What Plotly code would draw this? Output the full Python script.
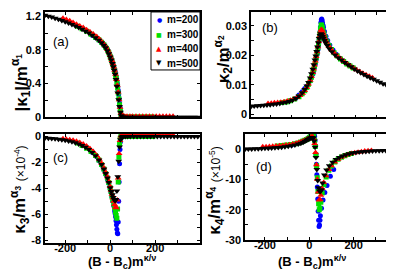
import plotly.graph_objects as go

# ---------------- data ----------------
X500 = [-290,-275,-260,-245,-230,-215,-200,-185,-170,-155,-140,-125,-110,-95,-80,-65,-50,
        -38,-28,-20,-12,-6,
        0,5,10,14,18,22,26,30,34,38,42,46,50,55,60,
        68,78,90,
        105,120,135,150,165,180,195,210,225,240,255,270,285,300,315,330,345,360,375,390]
X400 = [-210,-195,-180,-165,-150,-135,-120,-105,-90,-75,-60,
        -48,-38,-28,-20,-12,-6,
        0,4,8,12,16,20,24,28,32,36,40,44,48,52,
        58,65,75,88,
        100,115,130,145,160,175,190,205,220,235,250,265,280]
X300 = [-145,-125,-105,-85,-65,-50,-38,-28,-20,-12,-6,
        0,4,8,12,16,20,24,
        27,30,33,36,39,42,45,48,
        52,58,66,76,88,
        100,115,130,145,160,175,190]
X200 = [-80,-65,-50,-38,-28,-20,-12,-6,
        0,4,8,12,16,
        20,22,24,26,28,30,32,34,36,38,40,42,44,46,48,50,
        55,62,70,80,95,110]

# panel (a): |kappa_1| / m^alpha_1
K1_500 = [1.21,1.20,1.19,1.175,1.165,1.15,1.135,1.12,1.10,1.085,1.065,1.045,1.02,1.00,0.975,0.945,0.915,
          0.885,0.855,0.825,0.79,0.755,
          0.715,0.68,0.64,0.60,0.56,0.51,0.45,0.37,0.29,0.21,0.13,0.06,0.02,0.005,0.0,
          0.0,0.0,0.0,
          0.0,0.0,0.0,0.0,0.0,0.0,0.0,0.0,0.0,0.0,0.0,0.0,0.0,0.0,0.0,0.0,0.0,0.0,0.0,0.0]
K1_400 = [1.175,1.16,1.145,1.125,1.105,1.085,1.065,1.04,1.015,0.99,0.96,
          0.93,0.90,0.87,0.84,0.805,0.775,
          0.735,0.705,0.675,0.64,0.60,0.56,0.51,0.45,0.38,0.30,0.21,0.12,0.05,0.018,
          0.012,0.012,0.012,0.012,
          0.012,0.012,0.012,0.012,0.012,0.012,0.012,0.012,0.012,0.012,0.012,0.012,0.012]
K1_300 = [1.08,1.05,1.02,0.985,0.95,0.92,0.89,0.86,0.83,0.80,0.765,
          0.725,0.695,0.665,0.63,0.59,0.55,0.50,
          0.46,0.41,0.35,0.29,0.22,0.15,0.08,0.03,
          0.008,0.003,0.003,0.003,0.003,
          0.003,0.003,0.003,0.003,0.003,0.003,0.003]
K1_200 = [0.975,0.945,0.915,0.885,0.855,0.83,0.80,0.77,
          0.73,0.70,0.67,0.635,0.60,
          0.56,0.54,0.515,0.49,0.46,0.43,0.40,0.36,0.32,0.27,0.22,0.17,0.12,0.075,0.04,0.015,
          0.003,0.0,0.0,0.0,0.0,0.0]

# panel (b): kappa_2 / m^alpha_2
K2_500 = [0.0027,0.0028,0.0029,0.0030,0.0031,0.0032,0.0033,0.0034,0.0035,0.0037,0.0039,0.0041,0.0044,0.0048,0.0054,0.0062,0.0073,
          0.0084,0.0096,0.0108,0.0123,0.0138,
          0.0153,0.0168,0.0184,0.0198,0.0213,0.0228,0.0243,0.0257,0.0267,0.0273,0.0270,0.0264,0.0258,0.0250,0.0243,
          0.0233,0.0222,0.0212,
          0.0201,0.0192,0.0184,0.0176,0.0168,0.0161,0.0154,0.0147,0.0141,0.0135,0.0129,0.0124,0.0119,0.0114,0.0109,0.0104,0.0100,0.0096,0.0093,0.0090]
K2_400 = [0.0037,0.0038,0.0039,0.0040,0.0041,0.0043,0.0045,0.0048,0.0052,0.0057,0.0064,
          0.0072,0.0081,0.0092,0.0103,0.0116,0.0128,
          0.0142,0.0154,0.0167,0.0181,0.0196,0.0212,0.0229,0.0247,0.0265,0.0280,0.0288,0.0285,0.0277,0.0268,
          0.0256,0.0245,0.0232,0.0219,
          0.0209,0.0198,0.0189,0.0180,0.0172,0.0165,0.0158,0.0151,0.0145,0.0139,0.0134,0.0129,0.0124]
K2_300 = [0.0040,0.0042,0.0046,0.0052,0.0060,0.0070,0.0080,0.0091,0.0102,0.0115,0.0127,
          0.0141,0.0152,0.0164,0.0178,0.0193,0.0209,0.0226,
          0.0240,0.0256,0.0273,0.0290,0.0303,0.0302,0.0294,0.0285,
          0.0274,0.0261,0.0247,0.0233,0.0220,
          0.0209,0.0198,0.0188,0.0179,0.0171,0.0164,0.0157]
K2_200 = [0.0055,0.0066,0.0077,0.0088,0.0095,0.0102,0.0113,0.0124,
          0.0136,0.0146,0.0158,0.0171,0.0186,
          0.0202,0.0210,0.0219,0.0229,0.0240,0.0252,0.0265,0.0280,0.0296,0.0311,0.0321,0.0323,0.0318,0.0310,0.0302,0.0295,
          0.0281,0.0265,0.0250,0.0235,0.0218,0.0204]

# panel (c): kappa_3 / m^alpha_3  (x 1e-4)
K3_500 = [-0.10,-0.12,-0.14,-0.17,-0.20,-0.24,-0.28,-0.33,-0.39,-0.47,-0.57,-0.69,-0.83,-1.0,-1.22,-1.48,-1.8,
          -2.15,-2.5,-2.85,-3.2,-3.55,
          -3.95,-4.25,-4.5,-4.7,-4.85,-4.95,-4.85,-4.2,-3.1,-1.9,-0.8,-0.25,-0.05,0.0,0.0,
          0.0,0.0,0.0,
          0.0,0.0,0.0,0.0,0.0,0.0,0.0,0.0,0.0,0.0,0.0,0.0,0.0,0.0,0.0,0.0,0.0,0.0,0.0,0.0]
K3_400 = [-0.17,-0.20,-0.24,-0.29,-0.36,-0.45,-0.57,-0.72,-0.92,-1.15,-1.45,
          -1.75,-2.05,-2.4,-2.75,-3.1,-3.45,
          -3.85,-4.15,-4.45,-4.75,-5.0,-5.25,-5.45,-5.5,-4.9,-3.2,-1.3,-0.3,0.05,0.1,
          0.12,0.12,0.12,0.12,
          0.12,0.12,0.12,0.12,0.12,0.12,0.12,0.12,0.12,0.12,0.12,0.12,0.12]
K3_300 = [-0.5,-0.68,-0.9,-1.15,-1.45,-1.8,-2.15,-2.5,-2.85,-3.2,-3.55,
          -3.95,-4.25,-4.6,-4.9,-5.2,-5.5,-5.85,
          -6.1,-6.3,-5.6,-3.5,-1.6,-0.55,-0.12,0.0,
          0.0,0.0,0.0,0.0,0.0,
          0.0,0.0,0.0,0.0,0.0,0.0,0.0]
K3_200 = [-1.2,-1.5,-1.85,-2.2,-2.55,-2.9,-3.3,-3.6,
          -4.0,-4.3,-4.65,-5.0,-5.35,
          -5.75,-5.95,-6.2,-6.5,-6.8,-7.15,-7.45,-7.5,-6.6,-5.0,-3.5,-2.1,-1.0,-0.4,-0.12,-0.03,
          0.0,0.0,0.0,0.0,0.0,0.0]

# panel (d): kappa_4 / m^alpha_4  (x 1e-5)
K4_500 = [-0.1,-0.05,0.0,0.05,0.1,0.15,0.2,0.25,0.3,0.4,0.5,0.6,0.75,0.9,1.05,1.3,1.6,
          1.9,2.2,2.5,2.85,3.1,
          3.35,3.6,3.75,3.8,3.6,2.6,0.6,-2.8,-6.8,-10.4,-12.8,-13.8,-14.0,-13.4,-11.2,
          -8.6,-6.9,-5.5,
          -4.4,-3.5,-2.8,-2.3,-1.9,-1.6,-1.35,-1.15,-1.0,-0.9,-0.8,-0.72,-0.66,-0.6,-0.56,-0.52,-0.5,-0.47,-0.45,-0.43]
K4_400 = [0.7,0.75,0.8,0.87,0.95,1.05,1.15,1.28,1.42,1.6,1.85,
          2.1,2.35,2.6,2.85,3.1,3.35,
          3.6,3.8,3.95,4.05,4.0,3.4,1.8,-1.2,-5.2,-10.0,-14.2,-16.8,-16.6,-15.2,
          -13.0,-11.0,-8.8,-6.8,
          -5.5,-4.3,-3.4,-2.7,-2.2,-1.8,-1.5,-1.25,-1.05,-0.9,-0.7,-0.6,-0.5]
K4_300 = [1.0,1.15,1.3,1.5,1.75,2.0,2.3,2.6,2.85,3.15,3.4,
          3.7,3.9,4.05,4.2,4.3,4.0,2.8,
          0.8,-2.0,-5.5,-9.5,-14.0,-18.0,-20.0,-19.5,
          -17.5,-14.5,-11.8,-9.2,-7.0,
          -5.6,-4.3,-3.4,-2.7,-2.2,-1.8,-1.5]
K4_200 = [1.3,1.6,1.9,2.2,2.5,2.8,3.2,3.5,
          3.8,4.1,4.4,4.7,5.0,
          5.2,5.0,4.2,2.8,0.8,-1.8,-5.0,-8.5,-12.5,-16.5,-20.5,-23.5,-25.5,-25.0,-23.5,-22.0,
          -19.5,-16.8,-14.3,-12.0,-9.0,-6.8]

SERIES = ["m=200", "m=300", "m=400", "m=500"]

# labelled ticks and unlabelled (minor) ticks
X_TICKS = [-200, 0, 200]
X_TICKTEXT = ["-200", "0", "200"]
X_MINOR = [-100, 100, 300]
YA_TICKS = [0, 0.4, 0.8, 1.2]
YA_TEXT = ["0", "0.4", "0.8", "1.2"]
YA_MINOR = [0.2, 0.6, 1.0]
YB_TICKS = [0, 0.01, 0.02, 0.03]
YB_TEXT = ["0", "0.01", "0.02", "0.03"]
YB_MINOR = [0.005, 0.015, 0.025]
YC_TICKS = [-8, -6, -4, -2, 0]
YC_TEXT = ["-8", "-6", "-4", "-2", "0"]
YC_MINOR = [-7, -5, -3, -1]
YD_TICKS = [-30, -20, -10, 0]
YD_TEXT = ["-30", "-20", "-10", "0"]
YD_MINOR = [-25, -15, -5, 5]

# ---------------- styles ----------------
XS = {"m=200": X200, "m=300": X300, "m=400": X400, "m=500": X500}
STYLE = {
    "m=200": dict(color="#0000ff", symbol="circle", size=5, glyph="●", gsize=6),
    "m=300": dict(color="#00e000", symbol="square", size=5, glyph="■", gsize=6),
    "m=400": dict(color="#ff0000", symbol="triangle-up", size=6, glyph="▲", gsize=7),
    "m=500": dict(color="#000000", symbol="triangle-down", size=6, glyph="▼", gsize=7),
}
PANELS = [
    ("x", "y", {"m=200": K1_200, "m=300": K1_300, "m=400": K1_400, "m=500": K1_500}),
    ("x2", "y2", {"m=200": K2_200, "m=300": K2_300, "m=400": K2_400, "m=500": K2_500}),
    ("x3", "y3", {"m=200": K3_200, "m=300": K3_300, "m=400": K3_400, "m=500": K3_500}),
    ("x4", "y4", {"m=200": K4_200, "m=300": K4_300, "m=400": K4_400, "m=500": K4_500}),
]

fig = go.Figure()
for pi, (xa, ya, data) in enumerate(PANELS):
    for name in SERIES:
        st = STYLE[name]
        fig.add_trace(go.Scatter(
            x=XS[name], y=data[name], mode="markers", name=name,
            showlegend=False, xaxis=xa, yaxis=ya,
            marker=dict(color=st["color"], symbol=st["symbol"], size=st["size"],
                        line=dict(width=0)),
        ))

W, H = 394, 270
FONT = "Liberation Sans, Arial, sans-serif"
tickfont = dict(family=FONT, size=11, color="black", weight="bold")

def minor(vals):
    return dict(tickmode="array", tickvals=vals, ticks="inside", ticklen=3,
                tickwidth=1, tickcolor="black", showgrid=False)

def xaxis(domain, anchor, labels):
    return dict(domain=domain, anchor=anchor, range=[-290, 400],
                tickmode="array", tickvals=X_TICKS, ticktext=X_TICKTEXT,
                minor=minor(X_MINOR),
                showticklabels=labels, ticks="inside", ticklen=3, tickwidth=1,
                tickcolor="black", showline=True, linecolor="black", linewidth=1.5,
                mirror="allticks", showgrid=False, zeroline=False, tickfont=tickfont,
                ticklabelstandoff=-6)

def yaxis(domain, anchor, rng, tv, tt, mv):
    return dict(domain=domain, anchor=anchor, range=rng,
                tickmode="array", tickvals=tv, ticktext=tt, minor=minor(mv),
                ticks="inside", ticklen=3, tickwidth=1, tickcolor="black",
                showline=True, linecolor="black", linewidth=1.5,
                mirror="allticks", showgrid=False, zeroline=False, tickfont=tickfont)

xa_dom = [37 / W, 192 / W]
xb_dom = [243 / W, 390 / W]
xd_dom = [237 / W, 390 / W]
ytop_dom = [1 - 110 / H, 1 - 1 / H]
yc_dom = [1 - 240 / H, 1 - 127 / H]
yd_dom = [1 - 237 / H, 1 - 127 / H]

fig.update_layout(
    width=W, height=H, margin=dict(l=0, r=0, t=0, b=0),
    paper_bgcolor="white", plot_bgcolor="white",
    xaxis=xaxis(xa_dom, "y", False),
    yaxis=yaxis(ytop_dom, "x", [0, 1.25], YA_TICKS, YA_TEXT, YA_MINOR),
    xaxis2=xaxis(xb_dom, "y2", False),
    yaxis2=yaxis(ytop_dom, "x2", [-0.001, 0.0347], YB_TICKS, YB_TEXT, YB_MINOR),
    xaxis3=xaxis(xa_dom, "y3", True),
    yaxis3=yaxis(yc_dom, "x3", [-8.22, 0.22], YC_TICKS, YC_TEXT, YC_MINOR),
    xaxis4=xaxis(xd_dom, "y4", True),
    yaxis4=yaxis(yd_dom, "x4", [-30, 5], YD_TICKS, YD_TEXT, YD_MINOR),
    showlegend=False,
)

def ann(text, px, py, size, angle=0, bold=True, color="black", family=FONT,
        xanchor="center", yanchor="middle"):
    fig.add_annotation(text=text, x=px / W, y=1 - py / H, xref="paper", yref="paper",
                       showarrow=False, textangle=angle, xanchor=xanchor, yanchor=yanchor,
                       font=dict(family=family, size=size, color=color,
                                 weight="bold" if bold else "normal"))

# compact legend box in panel (a)
fig.add_shape(type="rect", xref="paper", yref="paper",
              x0=143 / W, x1=192 / W, y0=1 - 61 / H, y1=1 - 1 / H,
              line=dict(color="black", width=1), fillcolor="white", layer="above")
for i, name in enumerate(SERIES):
    st = STYLE[name]
    row_y = 9 + 15 * i
    ann(st["glyph"], 151, row_y, st["gsize"], bold=False, color=st["color"],
        family="DejaVu Sans")
    ann(name, 157, row_y, 10, xanchor="left")

# panel letters
ann("(a)", 53, 32, 13, bold=False)
ann("(b)", 262, 17, 13, bold=False)
ann("(c)", 52, 152, 13, bold=False)
ann("(d)", 256, 161, 13, bold=False)

# axis titles
ann("|κ<sub>1</sub>|/m<sup>α<sub>1</sub></sup>", 13, 74, 17, angle=-90)
ann("κ<sub>2</sub>/m<sup>α<sub>2</sub></sup>", 215, 50, 17, angle=-90)
ann("κ<sub>3</sub>/m<sup>α<sub>3</sub></sup> <span style='font-size:12px;font-weight:normal'>(×10<sup>-4</sup>)</span>",
    12, 185, 17, angle=-90)
ann("κ<sub>4</sub>/m<sup>α<sub>4</sub></sup> <span style='font-size:12px;font-weight:normal'>(×10<sup>-5</sup>)</span>",
    207, 186, 17, angle=-90)
ann("(B - B<sub>c</sub>)m<sup>κ/ν</sup>", 114, 271, 13, yanchor="bottom")
ann("(B - B<sub>c</sub>)m<sup>κ/ν</sup>", 304, 271, 13, yanchor="bottom")

fig.write_html("out.html")
